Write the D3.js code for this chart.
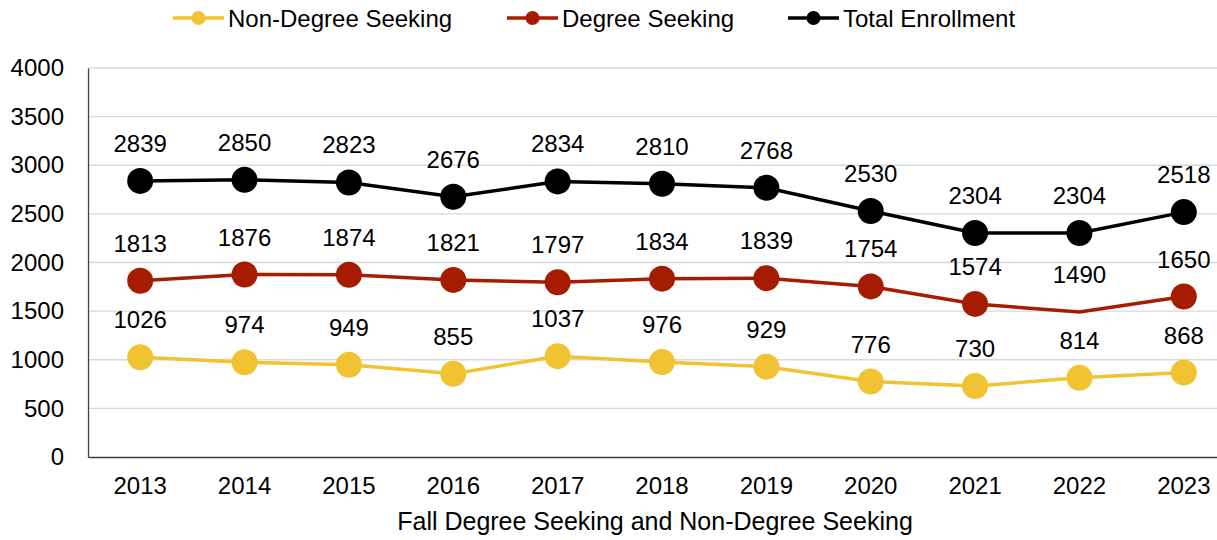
<!DOCTYPE html>
<html>
<head>
<meta charset="utf-8">
<script src="https://cdn.jsdelivr.net/npm/d3@7"></script>
<style>
  body { margin: 0; background: #fff; }
  svg { display: block; font-family: "Liberation Sans", Arial, sans-serif; }
</style>
</head>
<body>
<div id="chart"></div>
<script>
var years = ['2013', '2014', '2015', '2016', '2017', '2018', '2019', '2020', '2021', '2022', '2023'];
var nonDegree = [1026, 974, 949, 855, 1037, 976, 929, 776, 730, 814, 868];
var degree = [1813, 1876, 1874, 1821, 1797, 1834, 1839, 1754, 1574, 1490, 1650];
var total = [2839, 2850, 2823, 2676, 2834, 2810, 2768, 2530, 2304, 2304, 2518];
var yTicks = [0, 500, 1000, 1500, 2000, 2500, 3000, 3500, 4000];

// degree seeking 2022 has no marker in the original
var series = [
  { name: 'Non-Degree Seeking', values: nonDegree, color: '#f1c232', skip: [] },
  { name: 'Degree Seeking', values: degree, color: '#a61c00', skip: ['2022'] },
  { name: 'Total Enrollment', values: total, color: '#000000', skip: [] }
];

var width = 1217,
  height = 540,
  plotLeft = 88,
  plotRight = 1236,
  plotTop = 68,
  plotBottom = 457,
  fontSize = 24;

var svg = d3.select('#chart')
  .append('svg')
  .attr('width', width)
  .attr('height', height);

var x = d3.scaleBand()
  .domain(years)
  .range([plotLeft, plotRight]);

var y = d3.scaleLinear()
  .domain([0, 4000])
  .range([plotBottom, plotTop]);

// gridlines
svg.append('g')
  .selectAll('line')
  .data(yTicks.slice(1))
  .enter()
  .append('line')
  .attr('x1', plotLeft)
  .attr('x2', plotRight)
  .attr('y1', function(d) { return y(d); })
  .attr('y2', function(d) { return y(d); })
  .attr('stroke', '#d9d9d9')
  .attr('stroke-width', 1.3);

// y axis
var yAxis = svg.append('g')
  .attr('transform', 'translate(' + plotLeft + ',0)')
  .call(d3.axisLeft(y).tickValues(yTicks).tickFormat(d3.format('d')).tickSize(0).tickPadding(24));
yAxis.select('.domain').attr('stroke', '#404040').attr('stroke-width', 1.3);
yAxis.selectAll('text')
  .attr('font-size', fontSize)
  .attr('fill', '#000')
  .attr('font-family', '"Liberation Sans", Arial, sans-serif');

// x axis
var xAxis = svg.append('g')
  .attr('transform', 'translate(0,' + plotBottom + ')')
  .call(d3.axisBottom(x).tickSize(0).tickPadding(20));
xAxis.select('.domain').attr('stroke', '#404040').attr('stroke-width', 1.3);
xAxis.selectAll('text')
  .attr('font-size', fontSize)
  .attr('fill', '#000')
  .attr('font-family', '"Liberation Sans", Arial, sans-serif');

svg.append('text')
  .attr('x', 655)
  .attr('y', 530)
  .attr('text-anchor', 'middle')
  .attr('font-size', 25)
  .attr('fill', '#000')
  .text('Fall Degree Seeking and Non-Degree Seeking');

var line = d3.line()
  .x(function(d, i) { return x(years[i]) + x.bandwidth() / 2; })
  .y(function(d) { return y(d); });

series.forEach(function(s) {
  var g = svg.append('g');

  g.append('path')
    .datum(s.values)
    .attr('d', line)
    .attr('fill', 'none')
    .attr('stroke', s.color)
    .attr('stroke-width', 3.5);

  g.selectAll('circle')
    .data(s.values.map(function(v, i) { return { year: years[i], value: v }; })
      .filter(function(d) { return s.skip.indexOf(d.year) < 0; }))
    .enter()
    .append('circle')
    .attr('cx', function(d) { return x(d.year) + x.bandwidth() / 2; })
    .attr('cy', function(d) { return y(d.value); })
    .attr('r', 13)
    .attr('fill', s.color);

  g.selectAll('text')
    .data(s.values)
    .enter()
    .append('text')
    .attr('x', function(d, i) { return x(years[i]) + x.bandwidth() / 2; })
    .attr('y', function(d) { return y(d) - 29; })
    .attr('text-anchor', 'middle')
    .attr('font-size', fontSize)
    .attr('fill', '#000')
    .text(function(d) { return d; });
});

// legend
var legendX = [173, 507, 788];
var legend = svg.selectAll('.legend')
  .data(series)
  .enter()
  .append('g')
  .attr('class', 'legend')
  .attr('transform', function(d, i) { return 'translate(' + legendX[i] + ',18)'; });

legend.append('line')
  .attr('x1', 0)
  .attr('x2', 51)
  .attr('stroke', function(d) { return d.color; })
  .attr('stroke-width', 3.5);

legend.append('circle')
  .attr('cx', 25.5)
  .attr('r', 7)
  .attr('fill', function(d) { return d.color; });

legend.append('text')
  .attr('x', 55)
  .attr('y', 8.5)
  .attr('font-size', fontSize)
  .attr('fill', '#000')
  .text(function(d) { return d.name; });
</script>
</body>
</html>
